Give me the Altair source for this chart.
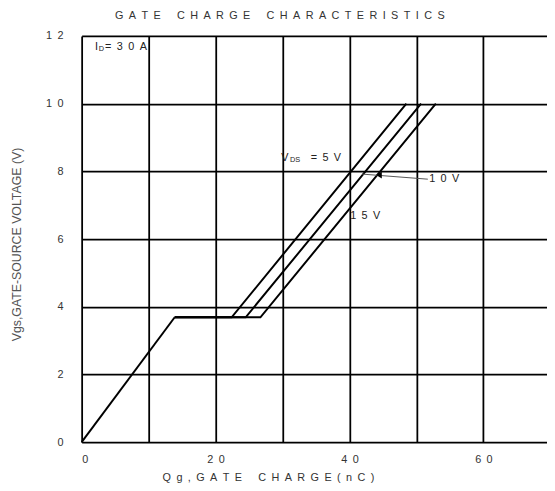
import altair as alt
import pandas as pd

EN = "\u2002"

def spaced(s, gap=EN, word_gap=EN * 3):
    return word_gap.join(gap.join(list(w)) for w in s.split(" "))

# ---- data ----
common_q = [0.0, 13.9]
common_v = [0.0, 3.69]
q_5v = [13.9, 22.4, 48.5]
q_10v = [13.9, 24.5, 50.7]
q_15v = [13.9, 26.7, 52.9]
v_rise = [3.69, 3.69, 10.0]

arrow_q = [51.7, 41.9]
arrow_v = [7.77, 7.92]
head_q = [44.4]
head_v = [7.89]

FONT = "Liberation Sans"

rows = []
for i, (q, v) in enumerate(zip(common_q, common_v)):
    rows.append({"series": "common", "order": i, "q": q, "v": v})
for name, qs in (("5V", q_5v), ("10V", q_10v), ("15V", q_15v)):
    for i, (q, v) in enumerate(zip(qs, v_rise)):
        rows.append({"series": name, "order": i, "q": q, "v": v})
lines_df = pd.DataFrame(rows)

x_scale = alt.Scale(domain=[0, 69.5], nice=False, zero=False)
y_scale = alt.Scale(domain=[0, 12], nice=False)

x_axis = alt.Axis(
    values=[0, 10, 20, 30, 40, 50, 60],
    grid=True, ticks=False, domain=False,
    labelExpr="datum.value % 20 == 0 ? join(split(datum.label, ''), '" + EN + "') : ''",
    labelPadding=12, labelFontSize=11, labelColor="#333", labelFont=FONT,
    title=spaced("Qg,GATE CHARGE(nC)"),
    titleFont=FONT, titleFontSize=11, titleFontWeight="normal", titleColor="#333",
    titleX=189, titleY=36, titleBaseline="middle",
)
y_axis = alt.Axis(
    values=list(range(13)),
    grid=True, ticks=False, domain=False,
    labelExpr="datum.value % 2 == 0 ? join(split(datum.label, ''), '" + EN + "') : ''",
    labelPadding=19, labelFontSize=11, labelColor="#333", labelFont=FONT,
    title="Vgs,GATE-SOURCE VOLTAGE (V)",
    titleFont=FONT, titleFontSize=12.5, titleFontWeight="normal", titleColor="#555",
    titleX=-66, titleY=211, titleBaseline="middle", titleAngle=270,
)

base_lines = alt.Chart(lines_df).mark_line(color="black", strokeWidth=2).encode(
    x=alt.X("q:Q", scale=x_scale, axis=x_axis),
    y=alt.Y("v:Q", scale=y_scale, axis=y_axis),
    detail="series:N",
    order="order:Q",
)

arrow = alt.Chart(pd.DataFrame({"q": arrow_q, "v": arrow_v})).mark_line(
    color="#555", strokeWidth=1
).encode(x=alt.X("q:Q", scale=x_scale), y=alt.Y("v:Q", scale=y_scale))

head = alt.Chart(pd.DataFrame({"q": head_q, "v": head_v})).mark_point(
    shape="triangle-left", filled=True, color="black", size=45, opacity=1
).encode(x=alt.X("q:Q", scale=x_scale), y=alt.Y("v:Q", scale=y_scale))

# annotation texts (main size)
ann_text = ["I", "=" + EN + "3" + EN + "0" + EN + "A", "V", "=" + EN + "5" + EN + "V",
            spaced("10V"), spaced("15V")]
ann_q = [2.0, 3.5, 29.8, 34.2, 51.9, 40.1]
ann_v = [11.68, 11.68, 8.40, 8.40, 7.77, 6.67]
texts = alt.Chart(pd.DataFrame({"q": ann_q, "v": ann_v, "t": ann_text})).mark_text(
    align="left", baseline="middle", font=FONT, fontSize=11, color="#222"
).encode(x=alt.X("q:Q", scale=x_scale), y=alt.Y("v:Q", scale=y_scale), text="t:N")

# subscripts
sub_text = ["D", "DS"]
sub_q = [2.55, 31.1]
sub_v = [11.68, 8.40]
subs = alt.Chart(pd.DataFrame({"q": sub_q, "v": sub_v, "t": sub_text})).mark_text(
    align="left", baseline="middle", font=FONT, fontSize=7.5, color="#222", dy=2
).encode(x=alt.X("q:Q", scale=x_scale), y=alt.Y("v:Q", scale=y_scale), text="t:N")

chart = alt.layer(base_lines, arrow, head, texts, subs).properties(
    width=472,
    height=412,
    autosize=alt.AutoSizeParams(type="none"),
    padding={"left": 74.7, "top": 25, "right": 0, "bottom": 38},
    title=alt.TitleParams(
        spaced("GATE CHARGE CHARACTERISTICS"),
        font=FONT, fontSize=11, fontWeight="normal", color="#333",
        anchor="middle", frame="group", dx=-35, offset=9,
    ),
).configure_view(strokeWidth=0).configure_axis(
    gridColor="black", gridWidth=1.8, gridOpacity=1
)

chart.save("out.html", embed_options={"renderer": "svg", "actions": False})
